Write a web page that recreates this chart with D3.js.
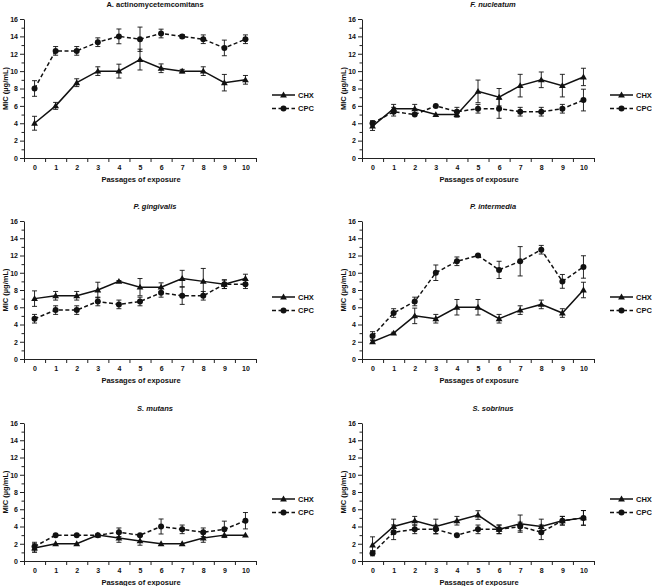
<!DOCTYPE html>
<html>
<head>
<meta charset="utf-8">
<script src="https://cdn.jsdelivr.net/npm/d3@7"></script>
<style>
  body { margin: 0; background: #fff; }
  svg { display: block; font-family: "Liberation Sans", Arial, sans-serif; }
</style>
</head>
<body>
<svg width="652" height="586"></svg>
<script>
// passages 0..10
const passages = [0, 1, 2, 3, 4, 5, 6, 7, 8, 9, 10];
const yTicks = [0, 2, 4, 6, 8, 10, 12, 14, 16];
const species = ["A. actinomycetemcomitans", "F. nucleatum", "P. gingivalis",
                 "P. intermedia", "S. mutans", "S. sobrinus"];

// moyennes et écarts (µg/mL)
const aaChx    = [4, 6, 8.67, 10, 10, 11.33, 10.33, 10, 10, 8.67, 9];
const aaChxErr = [0.8, 0.4, 0.45, 0.5, 0.8, 1.2, 0.5, 0.2, 0.5, 0.95, 0.5];
const aaCpc    = [8, 12.33, 12.33, 13.33, 14, 13.67, 14.33, 14, 13.67, 12.67, 13.67];
const aaCpcErr = [0.9, 0.5, 0.5, 0.5, 0.85, 1.4, 0.5, 0.2, 0.5, 0.9, 0.5];

const fnChx    = [3.67, 5.67, 5.67, 5, 5, 7.67, 7, 8.33, 9, 8.33, 9.33];
const fnChxErr = [0.5, 0.5, 0.5, 0, 0.3, 1.3, 1.0, 1.3, 0.9, 1.3, 1.0];
const fnCpc    = [4, 5.33, 5, 6, 5.33, 5.67, 5.67, 5.33, 5.33, 5.67, 6.67];
const fnCpcErr = [0.3, 0.5, 0, 0, 0.5, 0.5, 1.1, 0.5, 0.5, 0.5, 1.25];

const pgChx    = [7, 7.33, 7.33, 8, 9, 8.33, 8.33, 9.33, 9, 8.67, 9.33];
const pgChxErr = [0.9, 0.5, 0.5, 0.9, 0.1, 1.0, 0.5, 0.95, 1.5, 0.5, 0.5];
const pgCpc    = [4.67, 5.67, 5.67, 6.67, 6.33, 6.67, 7.67, 7.33, 7.33, 8.67, 8.67];
const pgCpcErr = [0.5, 0.5, 0.5, 0.5, 0.5, 0.5, 0.5, 1.0, 0.5, 0.5, 0.5];

const piChx    = [2, 3, 5, 4.67, 6, 6, 4.67, 5.67, 6.33, 5.33, 8];
const piChxErr = [0.2, 0.1, 0.9, 0.5, 0.9, 0.9, 0.5, 0.5, 0.5, 0.5, 0.9];
const piCpc    = [2.67, 5.33, 6.67, 10, 11.33, 12, 10.33, 11.33, 12.67, 9, 10.67];
const piCpcErr = [0.5, 0.5, 0.5, 0.9, 0.5, 0.1, 1.0, 1.7, 0.5, 0.8, 1.3];

const smChx    = [1.5, 2, 2, 3, 2.67, 2.33, 2, 2, 2.67, 3, 3];
const smChxErr = [0.5, 0, 0, 0, 0.5, 0.5, 0, 0, 0.5, 0, 0];
const smCpc    = [1.67, 3, 3, 3, 3.33, 3, 4, 3.67, 3.33, 3.67, 4.67];
const smCpcErr = [0.5, 0, 0, 0, 0.5, 0, 0.87, 0.5, 0.5, 0.95, 0.95];

const ssChx    = [1.85, 4, 4.67, 4, 4.67, 5.33, 3.67, 4.33, 4, 4.67, 5];
const ssChxErr = [0.95, 0.85, 0.5, 0.85, 0.5, 0.5, 0.5, 1.0, 0.85, 0.5, 0.85];
const ssCpc    = [0.9, 3.33, 3.67, 3.67, 3, 3.67, 3.67, 4, 3.33, 4.67, 5];
const ssCpcErr = [0.3, 0.85, 0.5, 0.5, 0, 0.5, 0.5, 0.5, 0.85, 0.5, 0.85];

const seriesNames = ["CHX", "CPC"];
const chxData = [aaChx, fnChx, pgChx, piChx, smChx, ssChx];
const chxErr  = [aaChxErr, fnChxErr, pgChxErr, piChxErr, smChxErr, ssChxErr];
const cpcData = [aaCpc, fnCpc, pgCpc, piCpc, smCpc, ssCpc];
const cpcErr  = [aaCpcErr, fnCpcErr, pgCpcErr, piCpcErr, smCpcErr, ssCpcErr];

const svg = d3.select("svg");

// position de chaque panneau : axe y en x0, valeur 16 en yTop, valeur 0 en yBot
const colX = [24, 362];
const rows = [[19, 158], [221, 359], [423, 561]];
const plotW = 232;

const triangle = d3.symbol().type(d3.symbolTriangle).size(20);

function panneau(i) {
  const x0 = colX[i % 2];
  const [yTop, yBot] = rows[Math.floor(i / 2)];
  const x = d3.scaleLinear().domain([-0.5, 10.5]).range([x0, x0 + plotW]);
  const y = d3.scaleLinear().domain([0, 16]).range([yBot, yTop]);
  const g = svg.append("g");

  // axe y : graduations principales + secondaires
  g.append("g")
    .attr("transform", `translate(${x0},0)`)
    .call(d3.axisLeft(y).tickValues(d3.range(1, 16, 2)).tickSize(2.5).tickFormat(""))
    .call(a => a.select(".domain").remove());
  g.append("g")
    .attr("transform", `translate(${x0},0)`)
    .call(d3.axisLeft(y).tickValues(yTicks).tickSize(4).tickSizeOuter(0).tickPadding(2))
    .call(a => a.selectAll("text").attr("font-size", 7).attr("font-weight", "bold").attr("fill", "#111"));

  // axe x : graduations entre catégories, étiquettes au centre
  g.append("g")
    .attr("transform", `translate(0,${yBot})`)
    .call(d3.axisBottom(x).tickValues(d3.range(-0.5, 10.6, 1)).tickSize(4).tickSizeOuter(0).tickFormat(""));
  g.append("g")
    .attr("transform", `translate(0,${yBot})`)
    .call(d3.axisBottom(x).tickValues(passages).tickSize(0).tickPadding(7))
    .call(a => a.select(".domain").remove())
    .call(a => a.selectAll("text").attr("font-size", 7).attr("font-weight", "bold").attr("fill", "#111"));
  g.selectAll(".domain, .tick line").attr("stroke", "#222").attr("stroke-width", 1);

  // titres
  g.append("text")
    .attr("x", x0 + 131).attr("y", yTop - 12)
    .attr("text-anchor", "middle").attr("fill", "#111")
    .attr("font-size", 7.5).attr("font-weight", "bold")
    .attr("font-style", i === 0 ? "normal" : "italic")
    .text(species[i]);
  g.append("text")
    .attr("x", x0 + 117).attr("y", yBot + 24)
    .attr("text-anchor", "middle").attr("fill", "#111")
    .attr("font-size", 7.5).attr("font-weight", "bold")
    .text("Passages of exposure");
  g.append("text")
    .attr("transform", `translate(${x0 - 16},${(yTop + yBot) / 2}) rotate(-90)`)
    .attr("text-anchor", "middle").attr("fill", "#111")
    .attr("font-size", 7.5).attr("font-weight", "bold")
    .text("MIC (µg/mL)");

  const series = [
    {vals: chxData[i], errs: chxErr[i], dash: null, mark: "tri"},
    {vals: cpcData[i], errs: cpcErr[i], dash: "4,2.5", mark: "dot"}
  ];

  series.forEach(s => {
    const pts = passages.map((p, k) => ({p, v: s.vals[k], e: s.errs[k]}));
    // barres d'erreur
    const eb = g.append("g").attr("stroke", "#111").attr("stroke-width", 0.9);
    pts.filter(d => d.e > 0).forEach(d => {
      eb.append("line").attr("x1", x(d.p)).attr("x2", x(d.p))
        .attr("y1", y(d.v - d.e)).attr("y2", y(d.v + d.e));
      [d.v - d.e, d.v + d.e].forEach(v =>
        eb.append("line").attr("x1", x(d.p) - 2.5).attr("x2", x(d.p) + 2.5)
          .attr("y1", y(v)).attr("y2", y(v)));
    });
    g.append("path")
      .attr("d", d3.line().x(d => x(d.p)).y(d => y(d.v))(pts))
      .attr("fill", "none").attr("stroke", "#111").attr("stroke-width", 1.5)
      .attr("stroke-dasharray", s.dash);
    if (s.mark === "tri") {
      g.selectAll(null).data(pts).join("path")
        .attr("transform", d => `translate(${x(d.p)},${y(d.v) + 0.5})`)
        .attr("d", triangle).attr("fill", "#111");
    } else {
      g.selectAll(null).data(pts).join("circle")
        .attr("cx", d => x(d.p)).attr("cy", d => y(d.v)).attr("r", 3)
        .attr("fill", "#111");
    }
  });

  // légende
  const lx = x0 + 248;
  seriesNames.forEach((name, k) => {
    const ly = yTop + 76 + k * 13.5;
    g.append("line").attr("x1", lx).attr("x2", lx + 23).attr("y1", ly).attr("y2", ly)
      .attr("stroke", "#111").attr("stroke-width", 1.5)
      .attr("stroke-dasharray", k === 1 ? "4,2.5" : null);
    if (k === 0) {
      g.append("path").attr("transform", `translate(${lx + 11.5},${ly + 0.5})`)
        .attr("d", triangle).attr("fill", "#111");
    } else {
      g.append("circle").attr("cx", lx + 11.5).attr("cy", ly).attr("r", 3).attr("fill", "#111");
    }
    g.append("text").attr("x", lx + 26).attr("y", ly + 2.7).attr("fill", "#111")
      .attr("font-size", 7.5).attr("font-weight", "bold").text(name);
  });
}

species.forEach((s, i) => panneau(i));
</script>
</body>
</html>
